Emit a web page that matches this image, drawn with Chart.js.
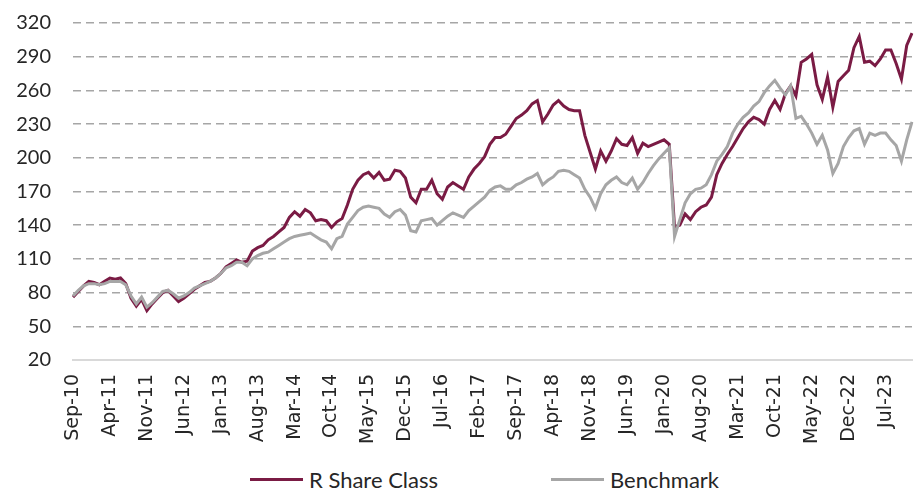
<!DOCTYPE html>
<html>
<head>
<meta charset="utf-8">
<script src="https://cdn.jsdelivr.net/npm/chart.js@4.4.1/dist/chart.umd.min.js"></script>
<style>
  body { margin: 0; background: #ffffff; }
  #wrap { position: relative; width: 915px; height: 493px; }
  #legend {
    position: absolute;
    left: 250px;
    top: 466px;
    display: flex;
    align-items: center;
    font-family: Lato, sans-serif;
    font-size: 22px;
    color: #262626;
  }
  .item { display: flex; align-items: center; }
  .swatch { width: 53px; height: 3px; margin-right: 6px; }
</style>
</head>
<body>
<div id="wrap">
  <canvas id="perfChart" width="915" height="460"></canvas>
  <div id="legend">
    <div class="item"><span class="swatch" style="background:#7a1b44"></span>R Share Class</div>
    <div class="item" style="margin-left:113px"><span class="swatch" style="background:#a6a6a6"></span>Benchmark</div>
  </div>
</div>
<script>
// monthly values, Sep-10 .. Dec-23
const rShareClass = [
  76, 81, 86, 90, 89, 87, 90, 93, 92, 93,
  88, 75, 68, 74, 64, 70, 75, 80, 82, 77,
  72, 75, 79, 83, 86, 89, 90, 93, 97, 103,
  106, 109, 107, 108, 117, 120, 122, 127, 130, 134,
  138, 147, 152, 148, 154, 151, 144, 145, 144, 138,
  143, 146, 158, 172, 180, 185, 187, 182, 187, 180,
  181, 189, 188, 182, 165, 160, 172, 172, 180, 168,
  163, 174, 178, 175, 172, 183, 190, 195, 201, 212,
  218, 218, 221, 228, 235, 238, 242, 248, 251, 232,
  239, 247, 251, 246, 243, 242, 242, 220, 205, 190,
  206, 197, 206, 217, 212, 211, 218, 204, 213, 210,
  212, 214, 216, 212, 138, 140, 150, 145, 152, 156,
  158, 165, 185, 195, 203, 210, 218, 226, 232, 236,
  234, 230, 243, 251, 243, 257, 264, 255, 285, 288,
  292, 265, 252, 272, 245, 268, 273, 278, 298, 308,
  285, 286, 282, 288, 296, 296, 284, 270, 300, 311
];

const benchmark = [
  77, 82, 86, 88, 88, 87, 88, 90, 90, 90,
  87, 77, 70, 76, 67, 71, 76, 81, 82, 79,
  75, 77, 80, 84, 86, 88, 90, 93, 97, 102,
  104, 107, 107, 104, 110, 113, 115, 116, 119, 122,
  125, 128, 130, 131, 132, 133, 130, 127, 125, 119,
  128, 130, 141, 147, 153, 156, 157, 156, 155, 150,
  147, 152, 154, 149, 135, 134, 144, 145, 146, 140,
  144, 148, 151, 149, 147, 153, 157, 161, 165, 171,
  174, 175, 172, 172, 176, 178, 181, 183, 186, 176,
  180, 183, 188, 189, 188, 185, 182, 172, 165, 155,
  168, 176, 180, 183, 178, 176, 182, 172, 178, 186,
  193, 199, 204, 209, 130, 145, 160, 168, 172, 173,
  176, 185, 197, 203, 210, 222, 230, 236, 240, 246,
  250, 258, 264, 269, 262, 256, 264, 235, 237, 230,
  222, 212, 220, 207, 186, 195, 210, 218, 224, 226,
  212, 222, 220, 222, 222, 216, 211, 197, 216, 232
];

const monthNames = ["Jan", "Feb", "Mar", "Apr", "May", "Jun",
                    "Jul", "Aug", "Sep", "Oct", "Nov", "Dec"];
const startYear = 2010;
const startMonth = 8; // Sep
const labelEvery = 7;

const labels = rShareClass.map((_, i) => {
  const n = startMonth + i;
  const yr = String(startYear + Math.floor(n / 12)).slice(2);
  return monthNames[n % 12] + "-" + yr;
});

const ctx = document.getElementById("perfChart");

new Chart(ctx, {
  type: "line",
  data: {
    labels: labels,
    datasets: [
      {
        label: "R Share Class",
        data: rShareClass,
        borderColor: "#7a1b44",
        borderWidth: 3,
        pointRadius: 0,
        tension: 0,
        order: 1,
      },
      {
        label: "Benchmark",
        data: benchmark,
        borderColor: "#a6a6a6",
        borderWidth: 3,
        pointRadius: 0,
        tension: 0,
        order: 0,
      },
    ],
  },
  options: {
    responsive: false,
    animation: false,
    devicePixelRatio: 1,
    layout: {
      padding: { top: 0, left: 0, right: 3, bottom: 10 },
    },
    plugins: {
      legend: { display: false },
      tooltip: { enabled: false },
    },
    scales: {
      x: {
        type: "category",
        grid: { display: false },
        border: { display: true, color: "#d9d9d9", width: 2 },
        ticks: {
          autoSkip: false,
          minRotation: 90,
          maxRotation: 90,
          padding: 6,
          color: "#262626",
          font: { family: "DejaVu Sans", size: 19 },
          callback: (val, i) => (i % labelEvery === 0 ? labels[i] : null),
        },
      },
      y: {
        min: 20,
        max: 320,
        afterFit: (scale) => {
          scale.width = 73;
          scale.paddingTop = 23;
          scale.paddingBottom = 0;
        },
        border: { display: false, dash: [8, 5] },
        grid: {
          drawTicks: false,
          lineWidth: 1.5,
          color: (c) => (c.tick && c.tick.value === 20 ? "rgba(0,0,0,0)" : "#a6a6a6"),
        },
        ticks: {
          stepSize: 30,
          padding: 22,
          color: "#262626",
          font: { family: "Lato", size: 20 },
        },
      },
    },
  },
});
</script>
</body>
</html>
